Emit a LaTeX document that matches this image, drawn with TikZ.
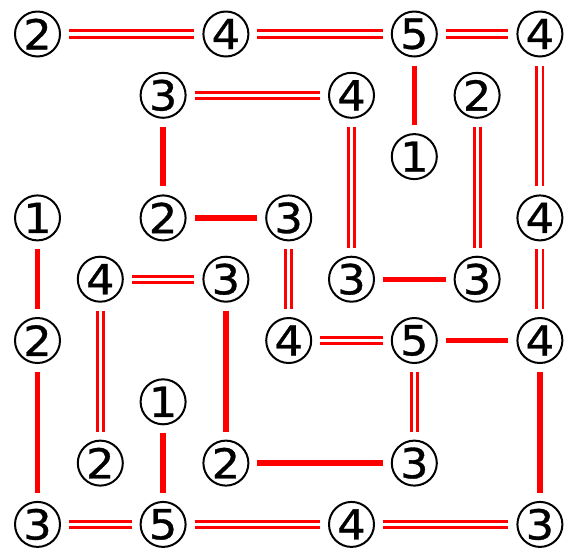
\documentclass[tikz,border=0pt]{standalone}
\usepackage{fontspec}
\setmainfont{DejaVu Sans}
\newfontfamily\islfont[FakeBold=0.8,FakeStretch=1.08]{DejaVu Sans}
\usepackage{tikz}

\tikzset{
  isl/.style={circle,draw,line width=1.5pt,minimum size=33.75pt,inner sep=0pt,outer sep=6.75pt,font=\islfont\fontsize{31}{31}\selectfont},
  one/.style={draw=red,line width=4pt},
  two/.style={draw=red,line width=2.2pt,double=white,double distance=2.4pt}
}

\begin{document}
\begin{tikzpicture}[x=0.75pt,y=0.75pt,yscale=-1,xscale=1]
\useasboundingbox (0,0) rectangle (573,551);
% islands
\node[isl] (a0) at (37.5,34) {2};
\node[isl] (d0) at (225.9,34) {4};
\node[isl] (g0) at (414.3,34) {5};
\node[isl] (i0) at (539.9,34) {4};
\node[isl] (c1) at (163.1,95.3) {3};
\node[isl] (f1) at (351.5,95.3) {4};
\node[isl] (h1) at (477.1,95.3) {2};
\node[isl] (g2) at (414.3,156.6) {1};
\node[isl] (a3) at (37.5,217.9) {1};
\node[isl] (c3) at (163.1,217.9) {2};
\node[isl] (e3) at (288.7,217.9) {3};
\node[isl] (i3) at (539.9,217.9) {4};
\node[isl] (b4) at (100.3,279.2) {4};
\node[isl] (d4) at (225.9,279.2) {3};
\node[isl] (f4) at (351.5,279.2) {3};
\node[isl] (h4) at (477.1,279.2) {3};
\node[isl] (a5) at (37.5,340.5) {2};
\node[isl] (e5) at (288.7,340.5) {4};
\node[isl] (g5) at (414.3,340.5) {5};
\node[isl] (i5) at (539.9,340.5) {4};
\node[isl] (c6) at (163.1,401.8) {1};
\node[isl] (b7) at (100.3,463.1) {2};
\node[isl] (d7) at (225.9,463.1) {2};
\node[isl] (g7) at (414.3,463.1) {3};
\node[isl] (a8) at (37.5,524.4) {3};
\node[isl] (c8) at (163.1,524.4) {5};
\node[isl] (f8) at (351.5,524.4) {4};
\node[isl] (i8) at (539.9,524.4) {3};
% bridges
\draw[two] (a0) -- (d0);
\draw[two] (d0) -- (g0);
\draw[two] (g0) -- (i0);
\draw[one] (g0) -- (g2);
\draw[two] (i0) -- (i3);
\draw[two] (c1) -- (f1);
\draw[one] (c1) -- (c3);
\draw[two] (f1) -- (f4);
\draw[two] (h1) -- (h4);
\draw[one] (c3) -- (e3);
\draw[two] (e3) -- (e5);
\draw[two] (i3) -- (i5);
\draw[one] (a3) -- (a5);
\draw[two] (b4) -- (d4);
\draw[two] (b4) -- (b7);
\draw[one] (d4) -- (d7);
\draw[one] (f4) -- (h4);
\draw[two] (e5) -- (g5);
\draw[one] (g5) -- (i5);
\draw[two] (g5) -- (g7);
\draw[one] (i5) -- (i8);
\draw[one] (a5) -- (a8);
\draw[one] (c6) -- (c8);
\draw[one] (d7) -- (g7);
\draw[two] (a8) -- (c8);
\draw[two] (c8) -- (f8);
\draw[two] (f8) -- (i8);
\end{tikzpicture}
\end{document}
